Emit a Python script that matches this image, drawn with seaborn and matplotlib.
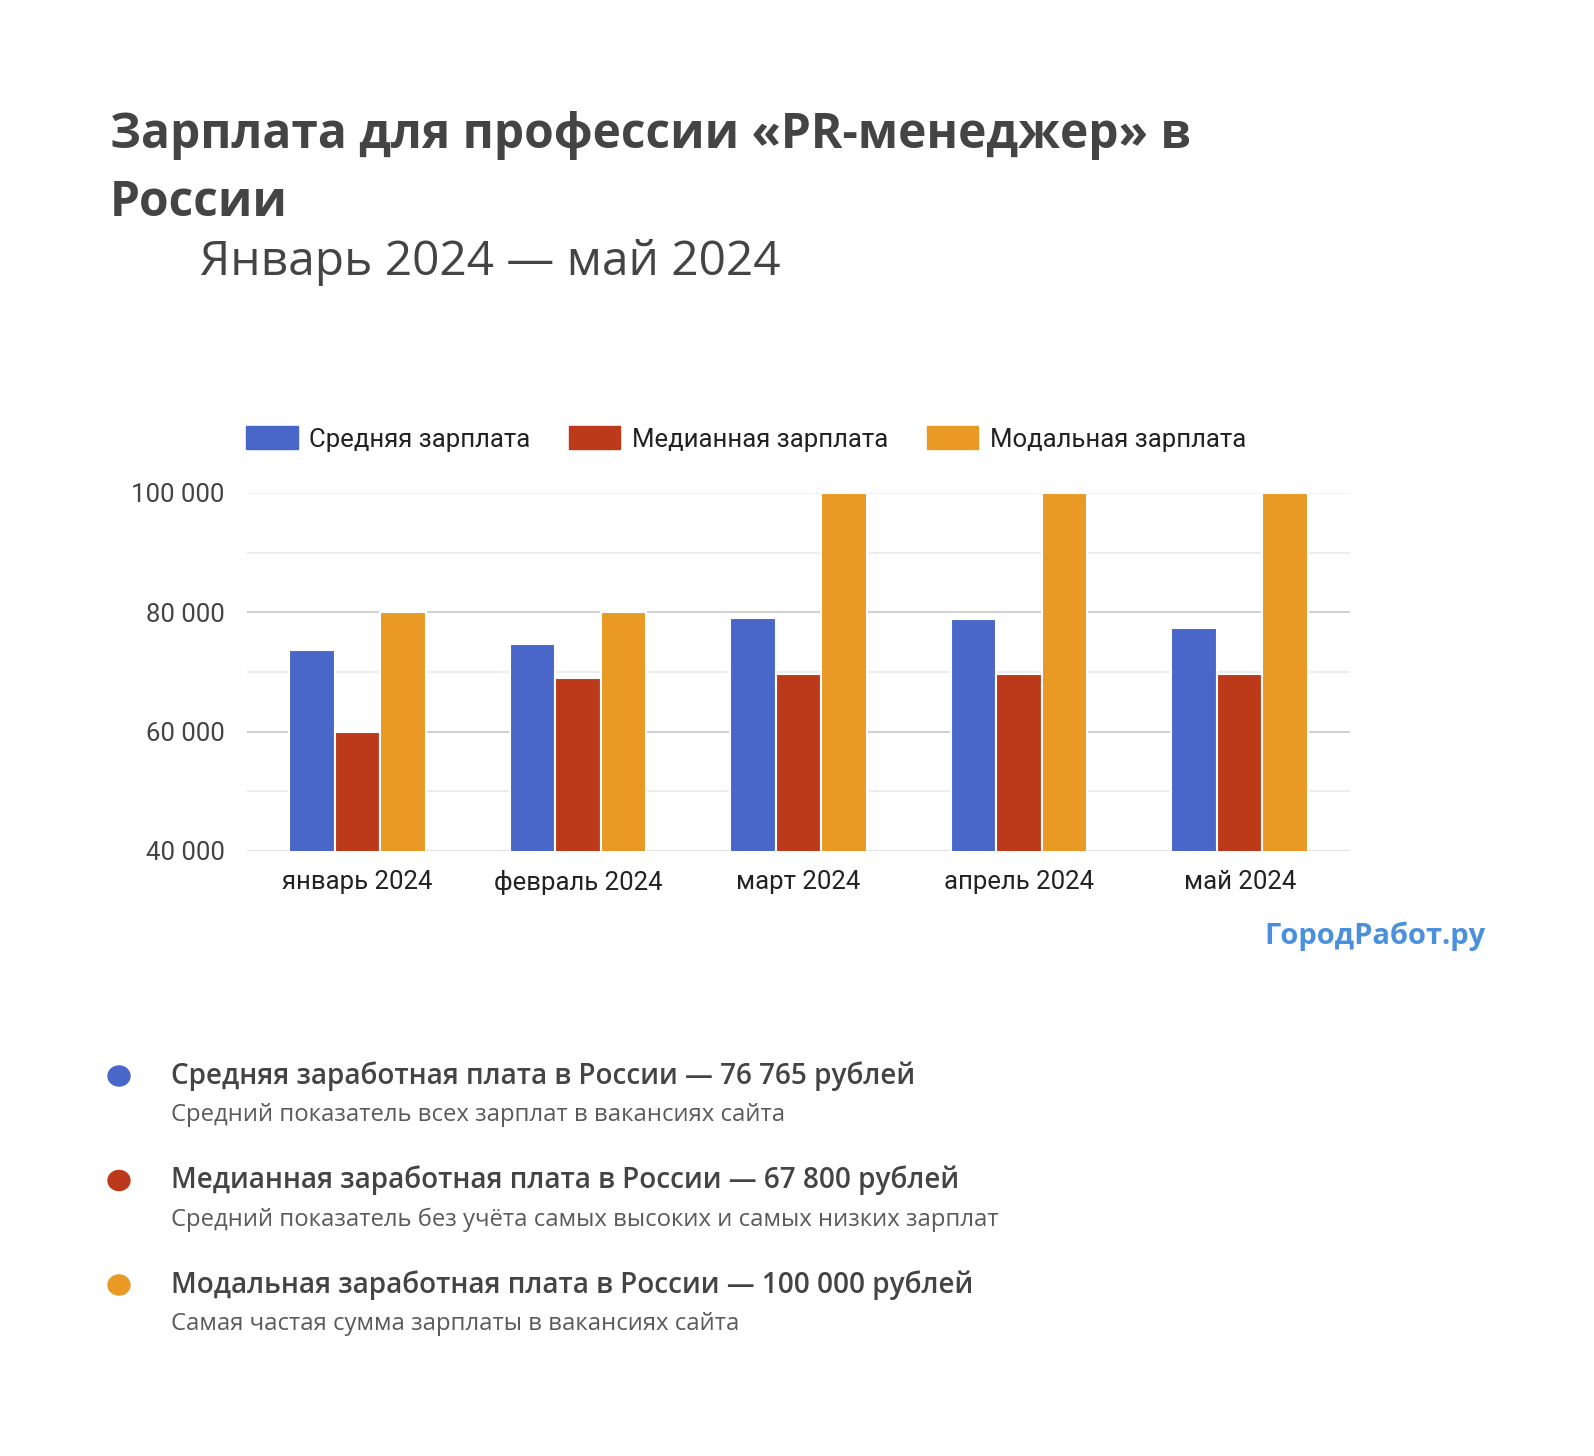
import matplotlib
matplotlib.use("Agg")
import matplotlib.pyplot as plt
import matplotlib.patches as mpatches
from matplotlib.ticker import FuncFormatter, MultipleLocator
import seaborn as sns
import pandas as pd

# data
months = ["январь 2024", "февраль 2024", "март 2024", "апрель 2024", "май 2024"]
series = ["Средняя зарплата", "Медианная зарплата", "Модальная зарплата"]
avg_salary = [73700, 74700, 79100, 78800, 77400]
median_salary = [60000, 69000, 69700, 69700, 69700]
modal_salary = [80000, 80000, 100000, 100000, 100000]
colors = ["#4967C9", "#BC3A1A", "#E89A25"]

summary_titles = [
    "Средняя заработная плата в России — 76 765 рублей",
    "Медианная заработная плата в России — 67 800 рублей",
    "Модальная заработная плата в России — 100 000 рублей",
]
summary_notes = [
    "Средний показатель всех зарплат в вакансиях сайта",
    "Средний показатель без учёта самых высоких и самых низких зарплат",
    "Самая частая сумма зарплаты в вакансиях сайта",
]

df = pd.DataFrame({
    "month": months * 3,
    "series": [s for s in series for _ in months],
    "value": avg_salary + median_salary + modal_salary,
})

sns.set_theme(style="white")
plt.rcParams["font.family"] = ["Roboto", "DejaVu Sans"]

W, H = 1594, 1456
fig = plt.figure(figsize=(W / 100, H / 100), dpi=100)
fig.patch.set_facecolor("white")

# plot area in pixels: x 247..1350, y 493..851
ax = fig.add_axes([247 / W, 1 - 851 / H, (1350 - 247) / W, (851 - 493) / H])
sns.barplot(data=df, x="month", y="value", hue="series", order=months,
            hue_order=series, palette=colors, width=0.62, saturation=1,
            edgecolor="white", linewidth=1.5, ax=ax, legend=False)

ax.set_ylim(40000, 100000)
ax.set_xlim(-0.5, len(months) - 0.5)
ax.set_yticks([40000, 60000, 80000, 100000])
ax.yaxis.set_minor_locator(MultipleLocator(10000))
ax.yaxis.set_major_formatter(FuncFormatter(lambda v, p: f"{int(v):,}".replace(",", " ")))
ax.set_axisbelow(True)
ax.grid(axis="y", which="major", color="#cccccc", linewidth=1.3)
ax.grid(axis="y", which="minor", color="#ebebeb", linewidth=1.3)
glines = ax.yaxis.get_gridlines()
glines[0].set_color("#dddddd")
glines[-1].set_color("#f2f2f2")
ax.tick_params(axis="y", which="both", length=0, pad=16, labelsize=18.5, labelcolor="#444444")
ax.tick_params(axis="x", length=0, pad=14, labelsize=18.5, labelcolor="#222222")
ax.set_xlabel("")
ax.set_ylabel("")
for s in ax.spines.values():
    s.set_visible(False)

handles = [mpatches.Patch(color=c, label=s) for c, s in zip(colors, series)]
fig.legend(handles=handles, loc="center", bbox_to_anchor=(746 / W, 1 - 439 / H),
           ncol=3, frameon=False, fontsize=18.5, handlelength=2.0, handleheight=1.0,
           handletextpad=0.45, columnspacing=1.5, labelcolor="#222222")

# titles
fig.text(110 / W, 1 - 136 / H, "Зарплата для профессии «PR-менеджер» в",
         fontsize=34.5, fontweight="bold", family="Open Sans", color="#444444", va="center")
fig.text(110 / W, 1 - 203 / H, "России",
         fontsize=34.5, fontweight="bold", family="Open Sans", color="#444444", va="center")
fig.text(200 / W, 1 - 262 / H, "Январь 2024 — май 2024",
         fontsize=34.5, family="Open Sans", color="#444444", va="center")

fig.text(1486 / W, 1 - 936 / H, "ГородРабот.ру", fontsize=21, fontweight="bold",
         family="Open Sans", color="#4A90DC", ha="right", va="center")

# summary list under the chart
for i, (t, n, c) in enumerate(zip(summary_titles, summary_notes, colors)):
    y0 = 1076 + i * 104.5
    fig.patches.append(mpatches.Circle((119 / W, 1 - y0 / H), 11 / W, color=c,
                                       transform=fig.transFigure, figure=fig))
    fig.text(171 / W, 1 - y0 / H, t, fontsize=20.1, fontweight="semibold",
             family="Open Sans", color="#444444", va="center")
    fig.text(171 / W, 1 - (y0 + 39) / H, n, fontsize=17.2, family="Open Sans",
             color="#5a5a5a", va="center")

fig.savefig("out.png", dpi=100, facecolor="white")
